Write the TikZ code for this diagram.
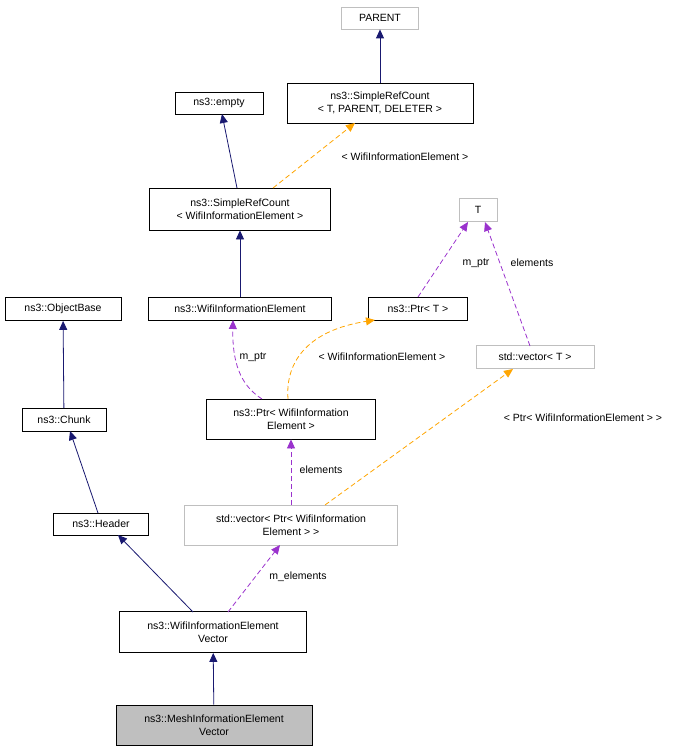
\documentclass[tikz,border=0pt]{standalone}
\usepackage{fontspec}
\setmainfont{Liberation Sans}
\usetikzlibrary{arrows.meta}
\definecolor{navy}{HTML}{191970}
\definecolor{purp}{HTML}{9A32CD}
\definecolor{orng}{HTML}{FFA500}
\definecolor{gbord}{HTML}{BFBFBF}
\begin{document}
\begin{tikzpicture}[x=1pt,y=-1pt,
  box/.style={draw=black,fill=white,line width=0.8pt,inner sep=0pt,align=center,font=\fontsize{10.5}{12.5}\selectfont},
  gbox/.style={box,draw=gbord},
  inh/.style={draw=navy,line width=0.8pt,-{Triangle[length=9pt,width=8pt]}},
  use/.style={draw=purp,line width=0.8pt,dash pattern=on 5pt off 3pt,-{Triangle[length=9pt,width=8pt]}},
  tmpl/.style={draw=orng,line width=0.8pt,dash pattern=on 5pt off 3pt,-{Triangle[length=9pt,width=8pt]}},
  lbl/.style={font=\fontsize{10.5}{12.5}\selectfont}]
\useasboundingbox (0,0) rectangle (689,752);
\node[gbox,minimum width=77pt,minimum height=22pt] (parent) at (380,18) {PARENT};
\node[box,minimum width=186pt,minimum height=40pt] (srct) at (380,103) {ns3::SimpleRefCount\\< T, PARENT, DELETER >};
\node[box,minimum width=88pt,minimum height=22pt] (empty) at (219,103) {ns3::empty};
\node[box,minimum width=181pt,minimum height=42pt] (srcw) at (240,209) {ns3::SimpleRefCount\\< WifiInformationElement >};
\node[gbox,minimum width=38pt,minimum height=23pt] (T) at (478,210) {T};
\node[box,minimum width=183pt,minimum height=23pt] (wie) at (240,309) {ns3::WifiInformationElement};
\node[box,minimum width=99pt,minimum height=23pt] (ptrt) at (418,309) {ns3::Ptr< T >};
\node[box,minimum width=116pt,minimum height=23pt] (ob) at (63,309) {ns3::ObjectBase};
\node[gbox,minimum width=118pt,minimum height=23pt] (vect) at (535,357) {std::vector< T >};
\node[box,minimum width=84pt,minimum height=23pt] (chunk) at (64,420) {ns3::Chunk};
\node[box,minimum width=169pt,minimum height=40pt] (ptrw) at (291,419) {ns3::Ptr< WifiInformation\\Element >};
\node[box,minimum width=95pt,minimum height=22pt] (header) at (101,524) {ns3::Header};
\node[gbox,minimum width=213pt,minimum height=40pt] (vecp) at (291,525) {std::vector< Ptr< WifiInformation\\Element > >};
\node[box,minimum width=187pt,minimum height=41pt] (wiev) at (213,632) {ns3::WifiInformationElement\\Vector};
\node[box,fill={rgb,255:red,191;green,191;blue,191},minimum width=196pt,minimum height=40pt] (mesh) at (214,725) {ns3::MeshInformationElement\\Vector};

\draw[inh] (srct) -- (parent);
\draw[inh] (237,188) -- (222,114);
\draw[tmpl] (273,188) -- (355,123);
\node[lbl] (l1) at (405,157) {< WifiInformationElement >};
\draw[inh] (wie) -- (srcw);
\draw[inh] (chunk) -- (ob);
\draw[inh] (98,513) -- (70,431);
\draw[tmpl] (288,399) .. controls (285,360) and (310,330) .. (375,320);
\node[lbl] (l2) at (382,357) {< WifiInformationElement >};
\draw[use] (418,297) -- (468,222);
\node[lbl] (l3) at (476,263) {m\_ptr};
\draw[use] (530,346) -- (485,222);
\node[lbl] (l4) at (532,263) {elements};
\draw[use] (262,399) .. controls (245,388) and (232,370) .. (233,320);
\node[lbl] (l5) at (253,357) {m\_ptr};
\draw[use] (291,505) -- (ptrw);
\node[lbl] (l6) at (321,470) {elements};
\draw[tmpl] (325,505) -- (513,369);
\node[lbl] (l7) at (583,418) {< Ptr< WifiInformationElement > >};
\draw[inh] (193,612) -- (118,535);
\draw[use] (228,612) -- (280,545);
\node[lbl] (l8) at (298,577) {m\_elements};
\draw[inh] (mesh) -- (wiev);
\end{tikzpicture}
\end{document}
